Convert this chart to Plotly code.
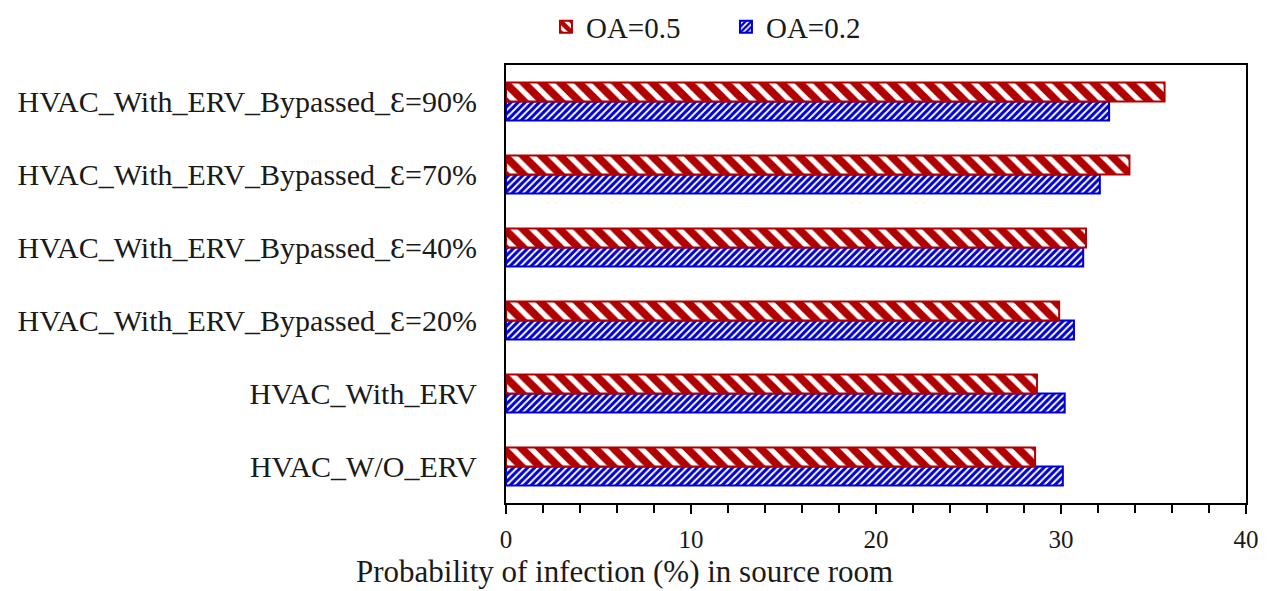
import plotly.graph_objects as go

categories = [
    "HVAC_W/O_ERV",
    "HVAC_With_ERV",
    "HVAC_With_ERV_Bypassed_Ɛ=20%",
    "HVAC_With_ERV_Bypassed_Ɛ=40%",
    "HVAC_With_ERV_Bypassed_Ɛ=70%",
    "HVAC_With_ERV_Bypassed_Ɛ=90%",
]
oa_02 = [30.1, 30.2, 30.7, 31.2, 32.1, 32.6]
oa_05 = [28.6, 28.7, 29.9, 31.35, 33.7, 35.6]
x_ticks = [0, 10, 20, 30, 40]

FONT = "Liberation Serif, Times New Roman, serif"
RED = "#B00000"
BLUE = "#0000D0"

fig = go.Figure()
fig.add_trace(go.Bar(
    y=categories, x=oa_02, orientation="h", name="OA=0.2",
    marker=dict(color="white", line=dict(color=BLUE, width=2),
                pattern=dict(shape="/", fgcolor=BLUE, fgopacity=1, bgcolor="white",
                             size=5, solidity=0.6)),
))
fig.add_trace(go.Bar(
    y=categories, x=oa_05, orientation="h", name="OA=0.5",
    marker=dict(color="white", line=dict(color=RED, width=2),
                pattern=dict(shape="\\", fgcolor=RED, fgopacity=1, bgcolor="white",
                             size=13, solidity=0.6)),
))

fig.update_layout(
    width=1264, height=583,
    margin=dict(l=498, r=26, t=57, b=88, autoexpand=False),
    paper_bgcolor="white", plot_bgcolor="white",
    barmode="group", bargap=0.48, bargroupgap=0,
    font=dict(family=FONT, size=30, color="#1a1a1a"),
    showlegend=True,
    legend=dict(orientation="h", traceorder="reversed", x=0.054, xanchor="left",
                y=1.087, yanchor="middle", font=dict(size=29), entrywidth=135,
                itemwidth=30, bgcolor="rgba(0,0,0,0)"),
    annotations=[dict(
        text="Probability of infection (%) in source room",
        xref="paper", yref="paper", x=-0.205, y=-0.157,
        xanchor="left", yanchor="middle", showarrow=False,
        font=dict(size=31, family=FONT, color="#1a1a1a"),
    )],
)
fig.update_xaxes(
    range=[0, 40], tickvals=x_ticks, ticks="outside", ticklen=9, tickwidth=2,
    tickcolor="black", showline=True, linecolor="black", linewidth=2, mirror=True,
    showgrid=False, zeroline=False,
    minor=dict(dtick=2, ticks="outside", ticklen=8, tickwidth=2, tickcolor="black", showgrid=False),
    tickfont=dict(size=25), ticklabelstandoff=4,
)
fig.update_yaxes(
    showline=True, linecolor="black", linewidth=2, mirror=True, ticks="",
    showgrid=False, zeroline=False, ticklabelstandoff=21, tickfont=dict(size=30),
)

fig.write_html("out.html")
